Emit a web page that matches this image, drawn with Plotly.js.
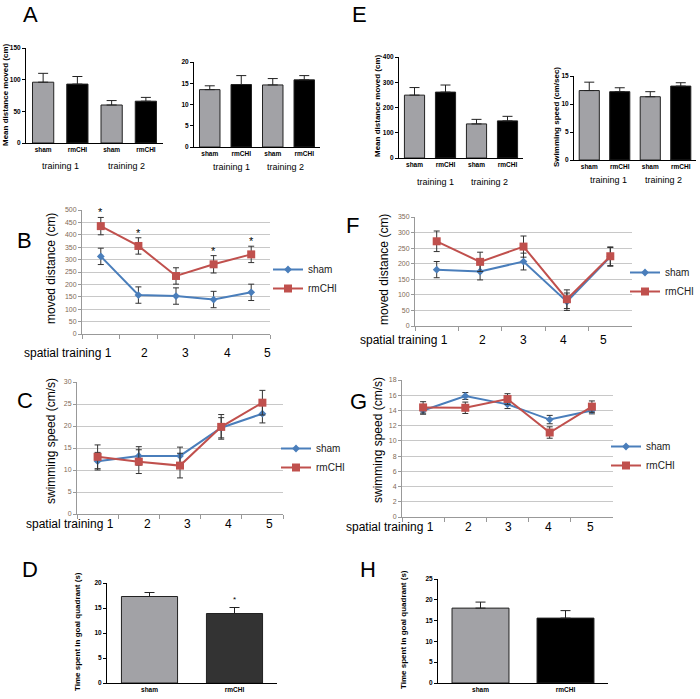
<!DOCTYPE html>
<html><head><meta charset="utf-8">
<script src="https://cdn.plot.ly/plotly-3.0.1.min.js"></script>
<style>html,body{margin:0;padding:0;background:#fff}#chart{width:700px;height:699px}</style>
</head><body><div id="chart"></div>
<script>
// ---------- data ----------
const barLabels4 = ['sham', 'rmCHI', 'sham', 'rmCHI'];
const barLabels2 = ['sham', 'rmCHI'];
const groupLabels = ['training 1', 'training 2'];
const aDist = [96, 93, 60, 66];
const aDistErr = [14, 12, 7, 6];
const aSpeed = [13.5, 14.7, 14.6, 15.8];
const aSpeedErr = [0.9, 2.1, 1.5, 1.0];
const eDist = [249, 261, 135, 147];
const eDistErr = [30, 28, 18, 18];
const eSpeed = [12.4, 12.2, 11.3, 13.2];
const eSpeedErr = [1.5, 0.7, 0.9, 0.6];

const sessions = ['1', '2', '3', '4', '5'];
const bSham = [313, 157, 153, 139, 168];
const bShamErr = [33, 33, 33, 33, 33];
const bRm = [435, 355, 234, 281, 321];
const bRmErr = [35, 33, 33, 35, 33];
const bStars = [0, 1, 3, 4];

const fSham = [181, 175, 207, 78, 222];
const fShamErr = [26, 27, 27, 28, 30];
const fRm = [272, 206, 255, 86, 224];
const fRmErr = [33, 31, 34, 30, 30];

const cSham = [12.0, 13.2, 13.2, 19.6, 22.8];
const cShamErr = [2.0, 2.1, 2.0, 2.3, 2.1];
const cRm = [13.0, 11.9, 11.0, 19.8, 25.3];
const cRmErr = [2.7, 2.7, 2.8, 2.8, 2.8];

const gSham = [14.0, 15.9, 14.8, 12.8, 14.0];
const gShamErr = [0.5, 0.45, 0.55, 0.55, 0.45];
const gRm = [14.4, 14.35, 15.5, 11.1, 14.5];
const gRmErr = [0.75, 0.75, 0.7, 0.75, 0.75];

const dTime = [17.3, 13.9];
const dTimeErr = [0.8, 1.2];
const hTime = [18.0, 15.6];
const hTimeErr = [1.45, 1.8];

// ---------- helpers ----------
const W = 700, H = 699;
const px = x => x / W;
const py = y => 1 - y / H;
const GREY = '#a2a2a6', BLACK = '#000000', DARK = '#333333';
const BLUE = '#4a7ebb', RED = '#c0504d';
const ARIAL = 'Liberation Sans, Arial, sans-serif';
const sfx = n => (n === 1 ? '' : String(n));

function barTrace(vals, errs, colors, n, width) {
  return {
    type: 'bar', x: vals.map((_, i) => i), y: vals, width: width,
    xaxis: 'x' + sfx(n), yaxis: 'y' + sfx(n),
    marker: {color: colors, line: {color: '#222', width: 1}},
    error_y: {type: 'data', symmetric: false, array: errs, arrayminus: errs.map(() => 0),
              color: '#222', thickness: 1, width: 5},
    showlegend: false, hoverinfo: 'skip'
  };
}
function lineTrace(vals, errs, name, color, symbol, size, n, legend) {
  return {
    type: 'scatter', mode: 'lines+markers', x: sessions, y: vals, name: name,
    xaxis: 'x' + sfx(n), yaxis: 'y' + sfx(n), legend: legend,
    line: {color: color, width: 2}, marker: {color: color, symbol: symbol, size: size},
    error_y: {type: 'data', array: errs, color: '#333', thickness: 1, width: 3},
    hoverinfo: 'skip'
  };
}
const gpFont = () => ({family: ARIAL, size: 6.5, color: '#000000', weight: 'bold'});
function gpX(x0, x1, labels, n) {
  return {domain: [px(x0), px(x1)], anchor: 'y' + sfx(n), range: [-0.5, labels.length - 0.5],
    tickvals: labels.map((_, i) => i), ticktext: labels, showline: true, linecolor: '#000',
    linewidth: 1, ticks: '', showgrid: false, zeroline: false, tickfont: gpFont(), fixedrange: true};
}
function gpY(yTop, yBot, range, dtick, n) {
  return {domain: [py(yBot), py(yTop)], anchor: 'x' + sfx(n), range: range, dtick: dtick, tick0: 0,
    showline: true, linecolor: '#000', linewidth: 1, ticks: 'outside', ticklen: 3, tickcolor: '#000',
    showgrid: false, zeroline: false, tickfont: gpFont(), fixedrange: true};
}
function xlX(x0, x1, n) {
  return {domain: [px(x0), px(x1)], anchor: 'y' + sfx(n), type: 'category', range: [-0.5, 4.5],
    tickson: 'boundaries', ticks: 'outside', ticklen: 4, tickcolor: '#999', showline: true,
    linecolor: '#999', showticklabels: false, showgrid: false, zeroline: false, fixedrange: true};
}
function xlY(yTop, yBot, range, dtick, n) {
  return {domain: [py(yBot), py(yTop)], anchor: 'x' + sfx(n), range: range, dtick: dtick, tick0: 0,
    showgrid: true, gridcolor: '#c8c8c8', gridwidth: 1, showline: true, linecolor: '#999',
    ticks: 'outside', ticklen: 3, tickcolor: '#999', zeroline: false, fixedrange: true,
    tickfont: {family: ARIAL, size: 7, color: '#7f6a55'}};
}
function legendAt(x, yTop) {
  return {x: px(x), y: py(yTop), xanchor: 'left', yanchor: 'top', bgcolor: 'rgba(0,0,0,0)',
    font: {family: ARIAL, size: 10, color: '#222'}, itemwidth: 30, tracegroupgap: 0};
}

// ---------- traces ----------
const traces = [
  barTrace(aDist, aDistErr, [GREY, BLACK, GREY, BLACK], 1, 0.62),
  barTrace(aSpeed, aSpeedErr, [GREY, BLACK, GREY, BLACK], 2, 0.65),
  barTrace(eDist, eDistErr, [GREY, BLACK, GREY, BLACK], 3, 0.65),
  barTrace(eSpeed, eSpeedErr, [GREY, BLACK, GREY, BLACK], 4, 0.66),
  lineTrace(bSham, bShamErr, 'sham', BLUE, 'diamond', 6, 5, 'legend'),
  lineTrace(bRm, bRmErr, 'rmCHI', RED, 'square', 8, 5, 'legend'),
  lineTrace(fSham, fShamErr, 'sham', BLUE, 'diamond', 6, 6, 'legend2'),
  lineTrace(fRm, fRmErr, 'rmCHI', RED, 'square', 8, 6, 'legend2'),
  lineTrace(cSham, cShamErr, 'sham', BLUE, 'diamond', 6, 7, 'legend3'),
  lineTrace(cRm, cRmErr, 'rmCHI', RED, 'square', 8, 7, 'legend3'),
  lineTrace(gSham, gShamErr, 'sham', BLUE, 'diamond', 6, 8, 'legend4'),
  lineTrace(gRm, gRmErr, 'rmCHI', RED, 'square', 8, 8, 'legend4'),
  barTrace(dTime, dTimeErr, [GREY, DARK], 9, 0.66),
  barTrace(hTime, hTimeErr, [GREY, BLACK], 10, 0.67)
];

// ---------- annotations ----------
const ann = [];
function txt(x, y, text, font, extra) {
  ann.push(Object.assign({xref: 'paper', yref: 'paper', x: px(x), y: py(y), text: text,
    showarrow: false, xanchor: 'center', yanchor: 'middle', font: Object.assign({}, font)}, extra || {}));
}
const letterFont = {family: ARIAL, size: 22, color: '#000'};
[['A', 30, 15], ['E', 359, 15], ['B', 24, 240], ['F', 352, 225],
 ['C', 25, 400], ['G', 358, 401], ['D', 30, 569], ['H', 368, 569]]
  .forEach(l => txt(l[1], l[2], l[0], letterFont));

const gpTitle = {family: ARIAL, size: 8, color: '#000', weight: 'bold'};
txt(6, 95, 'Mean distance moved (cm)', gpTitle, {textangle: -90});
txt(377, 106, 'Mean distance moved (cm)', gpTitle, {textangle: -90});
txt(556, 117, 'Swimming speed (cm/sec)', gpTitle, {textangle: -90});
txt(77, 632, 'Time spent in goal quadrant (s)', gpTitle, {textangle: -90});
txt(403, 630, 'Time spent in goal quadrant (s)', gpTitle, {textangle: -90});

const grpFont = {family: ARIAL, size: 9, color: '#000'};
txt(60, 166, groupLabels[0], grpFont); txt(126, 166, groupLabels[1], grpFont);
txt(231, 167, groupLabels[0], grpFont); txt(285, 167, groupLabels[1], grpFont);
txt(435, 182, groupLabels[0], grpFont); txt(489, 182, groupLabels[1], grpFont);
txt(608, 180, groupLabels[0], grpFont); txt(663, 180, groupLabels[1], grpFont);

const xlTitle = {family: ARIAL, size: 12, color: '#000'};
txt(51, 269, 'moved distance (cm)', xlTitle, {textangle: -90});
txt(384, 270, 'moved distance (cm)', xlTitle, {textangle: -90});
txt(51, 441, 'swimming speed (cm/s)', xlTitle, {textangle: -90});
txt(378, 440, 'swimming speed (cm/s)', xlTitle, {textangle: -90});

function sessionLabels(xStart, y, numX) {
  txt(xStart, y, 'spatial training ' + sessions[0], xlTitle, {xanchor: 'left'});
  numX.forEach((x, i) => txt(x, y, sessions[i + 1], xlTitle));
}
sessionLabels(22, 353, [144, 185, 227, 267]);
sessionLabels(358, 340, [482, 523, 563, 603]);
sessionLabels(24, 524, [147, 187, 228, 269]);
sessionLabels(344, 527, [468, 508, 548, 590]);

bStars.forEach(i => ann.push({xref: 'x5', yref: 'y5', x: i, y: bRm[i] + bRmErr[i],
  text: '*', showarrow: false, yanchor: 'bottom', yshift: -3,
  font: {family: ARIAL, size: 11, color: '#000'}}));
ann.push({xref: 'x9', yref: 'y9', x: 1, y: dTime[1] + dTimeErr[1], text: '*', showarrow: false,
  yanchor: 'bottom', yshift: 2, font: {family: ARIAL, size: 8, color: '#000'}});

// ---------- layout ----------
const layout = {
  width: W, height: H, margin: {l: 0, r: 0, t: 0, b: 0},
  paper_bgcolor: '#fff', plot_bgcolor: 'rgba(0,0,0,0)', showlegend: true,
  xaxis: gpX(26, 163, barLabels4, 1), yaxis: gpY(48, 143, [0, 150], 50, 1),
  xaxis2: gpX(194, 320, barLabels4, 2), yaxis2: gpY(62, 147, [0, 20], 5, 2),
  xaxis3: gpX(399, 523, barLabels4, 3), yaxis3: gpY(57, 158, [0, 400], 100, 3),
  xaxis4: gpX(574, 696, barLabels4, 4), yaxis4: gpY(76, 160, [0, 15], 5, 4),
  xaxis5: xlX(82, 270, 5), yaxis5: xlY(210, 334, [0, 500], 50, 5),
  xaxis6: xlX(415, 632, 6), yaxis6: xlY(217, 326, [0, 350], 50, 6),
  xaxis7: xlX(77, 283, 7), yaxis7: xlY(382, 514, [0, 30], 5, 7),
  xaxis8: xlX(402, 613, 8), yaxis8: xlY(380, 517, [0, 18], 2, 8),
  xaxis9: gpX(107, 277, barLabels2, 9), yaxis9: gpY(583, 683, [0, 20], 5, 9),
  xaxis10: gpX(438, 608, barLabels2, 10), yaxis10: gpY(579, 683, [0, 25], 5, 10),
  legend: legendAt(268, 255),
  legend2: legendAt(625, 258),
  legend3: legendAt(276, 434),
  legend4: legendAt(606, 432),
  annotations: ann
};
Plotly.newPlot('chart', traces, layout, {staticPlot: true, displayModeBar: false});
</script>
</body></html>
